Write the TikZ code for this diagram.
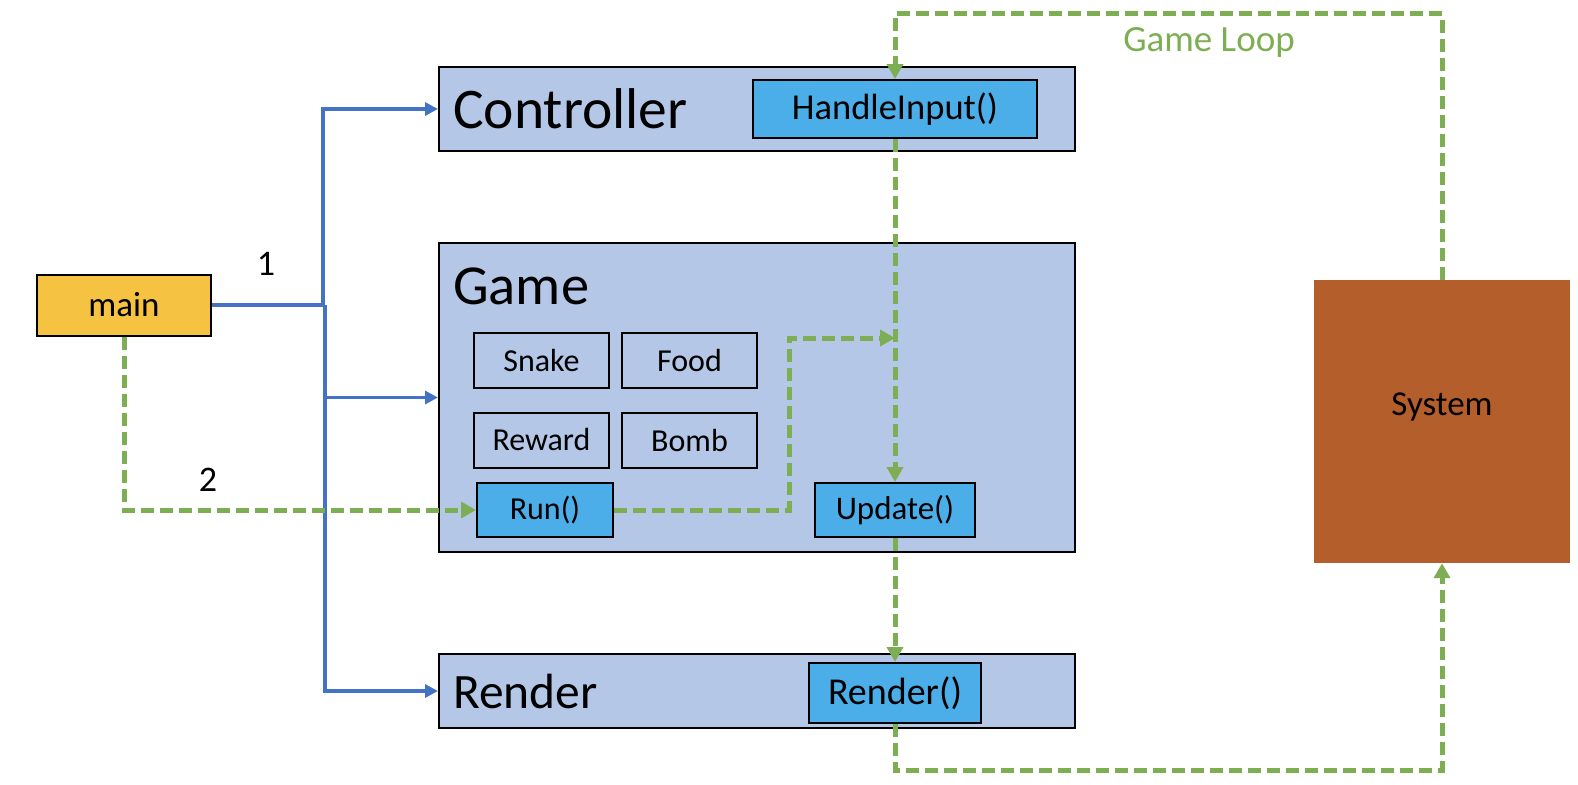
\documentclass[tikz,border=0pt]{standalone}
\usepackage{fontspec}
\setmainfont{Carlito}
\usetikzlibrary{arrows.meta}
\definecolor{boxfill}{HTML}{B4C7E7}
\definecolor{methfill}{HTML}{4BAEE8}
\definecolor{mainfill}{HTML}{F5C242}
\definecolor{sysfill}{HTML}{B45F2B}
\definecolor{lnblue}{HTML}{4472C4}
\definecolor{lngreen}{HTML}{7EAE54}
\tikzset{
  cls/.style={draw=black,line width=2pt,fill=boxfill,minimum width=636pt,inner sep=0pt},
  meth/.style={draw=black,line width=2pt,fill=methfill,inner sep=0pt,font=\fontsize{34}{40}\selectfont},
  member/.style={draw=black,line width=2pt,fill=boxfill,minimum width=135pt,minimum height=55pt,inner sep=0pt,font=\fontsize{32}{38}\selectfont},
  title/.style={anchor=west,inner sep=0pt,font=\fontsize{57.5}{60}\selectfont},
  bluearr/.style={draw=lnblue,line width=3.5pt,-{Triangle[length=13pt,width=13pt]}},
  bluel/.style={draw=lnblue,line width=3.5pt},
  greenarr/.style={draw=lngreen,line width=5pt,dash pattern=on 13pt off 6pt,-{Triangle[length=15pt,width=16pt]}},
  lbl/.style={inner sep=0pt,font=\fontsize{36}{40}\selectfont}
}
\begin{document}
\begin{tikzpicture}[x=1pt,y=-1pt]
\useasboundingbox (0,0) rectangle (1578,784);
% classes
\node[cls,minimum height=84pt] (ctrl) at (757,109) {};
\node[cls,minimum height=309pt] (game) at (757,397.5) {};
\node[cls,minimum height=74pt] (rend) at (757,691) {};
\node[title] (ctrlT) at (453,109) {Controller};
\node[title,font=\fontsize{56.5}{60}\selectfont] (gameT) at (453,286) {Game};
\node[title,font=\fontsize{49.5}{55}\selectfont] (rendT) at (453,691) {Render};
% methods
\node[meth,minimum width=284pt,minimum height=58pt,font=\fontsize{36.5}{40}\selectfont] (hin) at (895,109) {HandleInput()};
\node[meth,minimum width=136pt,minimum height=54pt,font=\fontsize{32}{38}\selectfont] (run) at (545,510) {Run()};
\node[meth,minimum width=160pt,minimum height=54pt,font=\fontsize{33}{38}\selectfont] (upd) at (895,510) {Update()};
\node[meth,minimum width=172pt,minimum height=60pt,font=\fontsize{38}{42}\selectfont] (rfn) at (895,693) {Render()};
% members
\node[member] (snake) at (541.5,360.5) {Snake};
\node[member] (food) at (689.5,360.5) {Food};
\node[member] (reward) at (541.5,440) {Reward};
\node[member] (bomb) at (689.5,440) {Bomb};
% main and system
\node[draw=black,line width=2pt,fill=mainfill,minimum width=174pt,minimum height=61pt,inner sep=0pt,font=\fontsize{35}{40}\selectfont] (main) at (124,305) {main};
\node[fill=sysfill,minimum width=256pt,minimum height=283pt,inner sep=0pt,font=\fontsize{35}{40}\selectfont,text depth=34pt] (sys) at (1442,421.5) {System};
% labels
\node[lbl] (one) at (266,264) {1};
\node[lbl] (two) at (208,480) {2};
\node[lbl,text=lngreen,font=\fontsize{37}{40}\selectfont] (loop) at (1209,42) {Game Loop};
% blue connectors
\coordinate (j1) at (323,305);
\coordinate (j2) at (325,305);
\draw[bluel] (main.east) -- (j1);
\draw[bluearr] (j1) |- (ctrl.west);
\draw[bluearr] (j2) |- (game.west);
\draw[bluearr] (j2) |- (rend.west);
% green connectors
\draw[greenarr] (main.south) |- (run.west);
\coordinate (k) at (789,338);
\coordinate (m) at (895,338);
\draw[greenarr] (run.east) -| (k) -- (m);
\draw[greenarr] (hin.south) -- (upd.north);
\draw[greenarr] (upd.south) -- (rfn.north);
\coordinate (t1) at (1442,14);
\coordinate (t2) at (895,14);
\draw[greenarr] (sys.north) -- (t1) -- (t2) -- (hin.north);
\coordinate (b1) at (895,770);
\coordinate (b2) at (1442,770);
\draw[greenarr] (rfn.south) -- (b1) -- (b2) -- (sys.south);
\end{tikzpicture}
\end{document}
